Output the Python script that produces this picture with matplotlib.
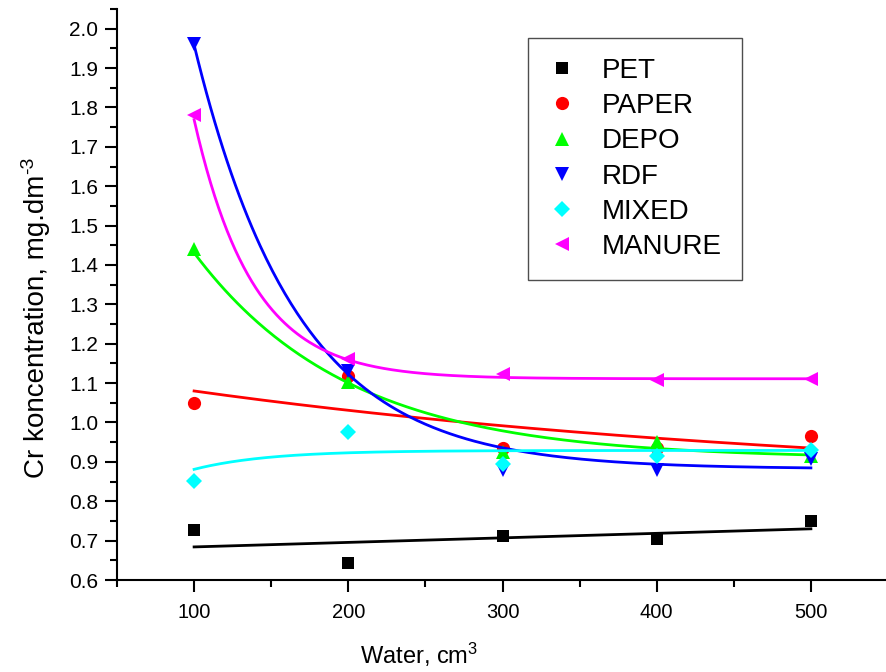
import numpy as np
import matplotlib
matplotlib.use("Agg")
import matplotlib.pyplot as plt
from matplotlib.ticker import MultipleLocator, FormatStrFormatter

# ---------------- data ----------------
water = [100, 200, 300, 400, 500]
pet = [0.727, 0.642, 0.713, 0.703, 0.750]
paper = [1.050, 1.118, 0.935, 0.935, 0.966]
depo = [1.440, 1.104, 0.926, 0.950, 0.914]
rdf = [1.960, 1.132, 0.880, 0.880, 0.908]
mixed = [0.851, 0.977, 0.895, 0.915, 0.930]
manure = [1.780, 1.162, 1.122, 1.108, 1.111]

series_names = ["PET", "PAPER", "DEPO", "RDF", "MIXED", "MANURE"]

# fitted curves drawn in the reference: y = y0 + A*exp(-(x-100)/t)
# (PET fit is linear: value at 100 and at 500)
pet_fit_ends = [0.684, 0.730]
fit_y0 = {"PAPER": 0.8345, "DEPO": 0.908, "RDF": 0.882, "MIXED": 0.929, "MANURE": 1.111}
fit_A = {"PAPER": 0.2455, "DEPO": 0.523, "RDF": 1.077, "MIXED": -0.048, "MANURE": 0.658}
fit_t = {"PAPER": 448.0, "DEPO": 100.0, "RDF": 66.7, "MIXED": 48.0, "MANURE": 38.2}

# ---------------- style ----------------
plt.rcParams['font.family'] = ['Liberation Sans', 'DejaVu Sans']
plt.rcParams['mathtext.default'] = 'regular'

W, H = 886, 672
fig = plt.figure(figsize=(W / 100, H / 100), dpi=100)
ax = fig.add_axes([117 / W, 1 - 580 / H, 771 / W, 571 / H])

colors = {"PET": "#000000", "PAPER": "#ff0000", "DEPO": "#00ff00",
          "RDF": "#0000ff", "MIXED": "#00ffff", "MANURE": "#ff00ff"}
markers = {"PET": "s", "PAPER": "o", "DEPO": "^", "RDF": "v", "MIXED": "D", "MANURE": "<"}
msizes = {"PET": 8, "PAPER": 9.5, "DEPO": 10.5, "RDF": 10.5, "MIXED": 8, "MANURE": 10.5}
values = {"PET": pet, "PAPER": paper, "DEPO": depo, "RDF": rdf, "MIXED": mixed, "MANURE": manure}

xf = np.linspace(water[0], water[-1], 300)
handles = []
for name in series_names:
    h, = ax.plot(water, values[name], linestyle='none', marker=markers[name],
                 markersize=msizes[name], color=colors[name], markeredgewidth=0,
                 label=name, clip_on=False)
    handles.append(h)
    if name == "PET":
        ax.plot([water[0], water[-1]], pet_fit_ends, color=colors[name], lw=2.0)
    else:
        yf = fit_y0[name] + fit_A[name] * np.exp(-(xf - water[0]) / fit_t[name])
        ax.plot(xf, yf, color=colors[name], lw=2.0)

ax.set_xlim(50, 550)
ax.set_ylim(0.6, 2.05)

for s in ['top', 'right']:
    ax.spines[s].set_visible(False)
for s in ['left', 'bottom']:
    ax.spines[s].set_linewidth(1.5)

ax.xaxis.set_major_locator(MultipleLocator(100))
ax.xaxis.set_minor_locator(MultipleLocator(50))
ax.yaxis.set_major_locator(MultipleLocator(0.1))
ax.yaxis.set_minor_locator(MultipleLocator(0.05))
ax.yaxis.set_major_formatter(FormatStrFormatter('%.1f'))

ax.tick_params(which='major', direction='out', length=8.6, width=1.5)
ax.tick_params(which='minor', direction='out', length=5, width=1.5)
ax.tick_params(axis='y', which='major', pad=5, labelsize=15)
ax.tick_params(axis='x', which='major', pad=8, labelsize=14.5)

# y label with a hyphen superscript, as in the reference
ylab = fig.text(37 / W, 1 - 478 / H, "Cr koncentration, mg.dm", rotation=90,
                ha='center', va='bottom', fontsize=20)
fig.canvas.draw()
bb = ylab.get_window_extent()
fig.text((bb.x0 - 4) / W, (bb.y1 + 1) / H, "-3", rotation=90,
         ha='left', va='bottom', fontsize=14)

fig.text(419 / W, 1 - 655 / H, "Water, cm$^{3}$", ha='center', va='center',
         fontsize=17)

leg = ax.legend(handles=handles, loc='upper left',
                bbox_to_anchor=(528 / W, 1 - 38 / H), bbox_transform=fig.transFigure,
                borderaxespad=0, fontsize=20, frameon=True, fancybox=False,
                borderpad=0.72, labelspacing=0.33, handlelength=1.0,
                handletextpad=0.95, numpoints=1)
leg.get_frame().set_edgecolor('#222222')
leg.get_frame().set_linewidth(1.0)

fig.savefig("out.png", dpi=100)
